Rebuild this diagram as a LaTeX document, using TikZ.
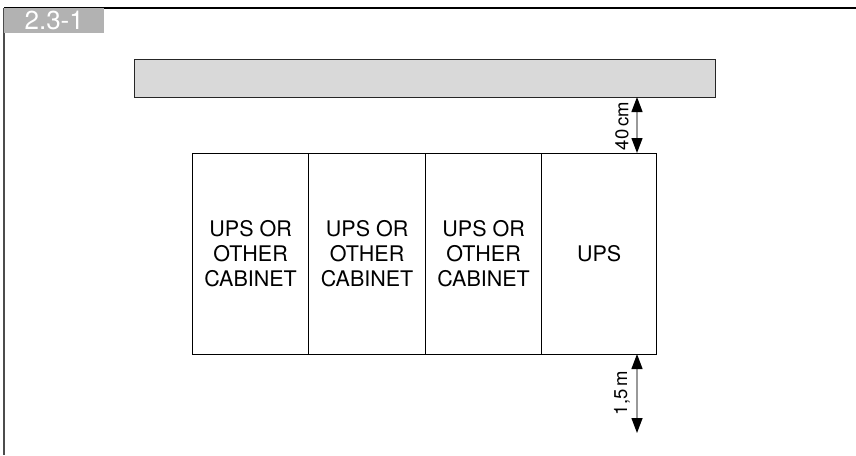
\documentclass[tikz,border=0pt]{standalone}
\usepackage{fontspec}
\setmainfont{TeX Gyre Heros}
\usetikzlibrary{arrows.meta}
\tikzset{
  cab/.style={draw=black, line width=1.2pt, minimum width=116pt, minimum height=201pt, inner sep=0pt, align=center, font=\fontsize{21.5}{25}\selectfont, anchor=north west},
  dimarrow/.style={draw=gray!80, line width=1.3pt, {Triangle[length=15pt,width=11pt,black]}-{Triangle[length=15pt,width=11pt,black]}},
  dimlabel/.style={rotate=90, font=\fontsize{18.5}{22}\selectfont, inner sep=0pt}
}
\begin{document}
\begin{tikzpicture}[x=1pt,y=-1pt]
\useasboundingbox (0,0) rectangle (856,455);
% frame
\draw[black, line width=1.4pt] (4,8) -- (856,8);
\draw[black!70, line width=1.6pt] (4,8) -- (4,455);
\node[fill=black!30, minimum width=100pt, minimum height=25pt, inner sep=0pt, anchor=north west, text=white, font=\fontsize{26}{28}\selectfont] (title) at (4,8) {2.3-1};
% wall bar
\node[draw=black!85, fill=black!15, line width=1.4pt, minimum width=581pt, minimum height=38pt, inner sep=0pt, anchor=north west] (bar) at (134,59) {};
% cabinets
\node[cab] (c1) at (192,153) {UPS OR\\OTHER\\CABINET};
\node[cab, minimum width=117pt] (c2) at (308,153) {UPS OR\\OTHER\\CABINET};
\node[cab] (c3) at (425,153) {UPS OR\\OTHER\\CABINET};
\node[cab, minimum width=115pt] (c4) at (541,153) {UPS};
% dimensions
\coordinate (t1) at (637,97);
\coordinate (t2) at (637,153);
\coordinate (b1) at (637,354);
\coordinate (b2) at (637,433);
\draw[dimarrow] (t1) -- (t2);
\draw[dimarrow] (b1) -- (b2);
\node[dimlabel] (l1) at (622,126) {40\,cm};
\node[dimlabel] (l2) at (622,393) {1,5\,m};
\end{tikzpicture}
\end{document}
